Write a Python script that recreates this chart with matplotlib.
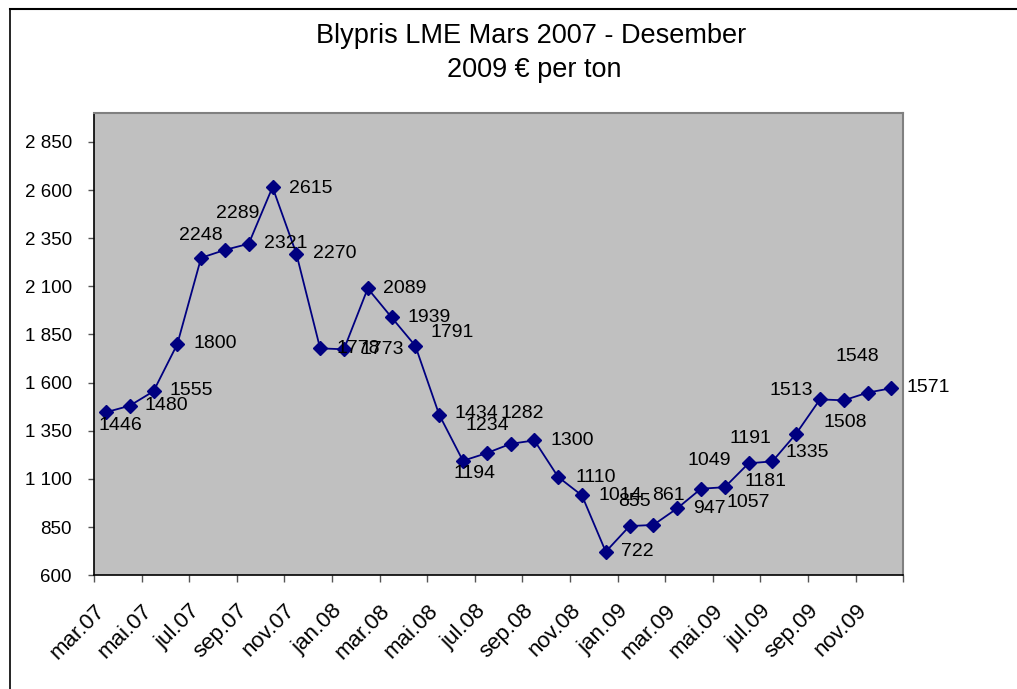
import matplotlib
matplotlib.use("Agg")
import matplotlib.pyplot as plt
import matplotlib.transforms as mtransforms
from matplotlib.ticker import FixedLocator, FuncFormatter
from matplotlib.lines import Line2D

plt.rcParams["font.family"] = ["Liberation Sans", "DejaVu Sans"]

# ------------------------------------------------------------ data
months = ["mar.07", "apr.07", "mai.07", "jun.07", "jul.07", "aug.07",
          "sep.07", "okt.07", "nov.07", "des.07",
          "jan.08", "feb.08", "mar.08", "apr.08", "mai.08", "jun.08",
          "jul.08", "aug.08", "sep.08", "okt.08", "nov.08", "des.08",
          "jan.09", "feb.09", "mar.09", "apr.09", "mai.09", "jun.09",
          "jul.09", "aug.09", "sep.09", "okt.09", "nov.09", "des.09"]
prices = [1446, 1480, 1555, 1800, 2248, 2289, 2321, 2615, 2270, 1778,
          1773, 2089, 1939, 1791, 1434, 1194, 1234, 1282, 1300, 1110,
          1014, 722, 855, 861, 947, 1049, 1057, 1181, 1191, 1335,
          1513, 1508, 1548, 1571]
yticks = [600, 850, 1100, 1350, 1600, 1850, 2100, 2350, 2600, 2850]

title_1 = "Blypris LME Mars 2007 - Desember"
title_2 = "2009 \u20ac per ton"

# label placement (pixels from the point, x right / y down), as in the sheet
label_off = [(14, 13), (37, 0), (38, -1), (38, -1), (0, -22), (13, -36),
             (37, 0), (38, 1), (38, 0), (38, 0), (38, 0), (37, 0), (38, 0),
             (37, -13), (37, -1), (12, 13), (1, -28), (12, -30), (38, 0),
             (38, 1), (38, 0), (32, 0), (5, -25), (15, -29), (32, 0),
             (8, -28), (23, 15), (17, 18), (-22, -23), (11, 19), (-29, -9),
             (1, 22), (-10, -36), (37, -1)]

W, H = 1017, 689
fig = plt.figure(figsize=(W / 100, H / 100), dpi=100)
ax = fig.add_axes([94 / W, 1 - 575.2 / H, 809.3 / W, 462.2 / H])
ax.set_facecolor("#c0c0c0")

x = list(range(len(prices)))
ax.plot(x, prices, color="#000080", lw=1.3, marker="D", ms=7,
        markerfacecolor="#000080", markeredgecolor="#000080", zorder=3)

for xi, v, (dx, dy) in zip(x, prices, label_off):
    ax.annotate(str(v), (xi, v), xytext=(dx, -dy), textcoords="offset pixels",
                ha="center", va="center", fontsize=14, color="black",
                zorder=4)

ax.set_xlim(-0.5, len(prices) - 0.5)
ax.set_ylim(600, 3000)

xt = [i - 0.5 for i in range(0, len(prices) + 1, 2)]
ax.xaxis.set_major_locator(FixedLocator(xt))
ax.set_xticklabels(months[::2] + [""], rotation=45, ha="right", va="top",
                   rotation_mode="anchor", fontsize=16)
shift = mtransforms.ScaledTranslation(-7 / 100, 0, fig.dpi_scale_trans)
for lab in ax.get_xticklabels():
    lab.set_transform(lab.get_transform() + shift)
ax.yaxis.set_major_locator(FixedLocator(yticks))
ax.yaxis.set_major_formatter(
    FuncFormatter(lambda v, p: f"{int(v):,}".replace(",", " ")))
ax.tick_params(axis="y", direction="out", length=4, width=1, pad=12,
               labelsize=13.5, color="#555555")
ax.tick_params(axis="x", direction="out", length=5, width=1, pad=13,
               color="#555555")

for s in ("top", "right"):
    ax.spines[s].set_color("#808080")
    ax.spines[s].set_linewidth(1.5)
for s in ("left", "bottom"):
    ax.spines[s].set_color("black")
    ax.spines[s].set_linewidth(1.2)

fig.text(531 / W, 1 - 43 / H, title_1, ha="center", va="baseline",
         fontsize=19.5)
fig.text(534 / W, 1 - 77 / H, title_2, ha="center", va="baseline",
         fontsize=19.5)

# outer chart frame (cropped at right and bottom in the original)
fig.add_artist(Line2D([9.5 / W, 9.5 / W], [0, 1 - 9 / H], color="black",
                      lw=1.2, transform=fig.transFigure))
fig.add_artist(Line2D([9.5 / W, 1], [1 - 9 / H, 1 - 9 / H], color="black",
                      lw=1.5, transform=fig.transFigure))

fig.savefig("out.png", dpi=100)
